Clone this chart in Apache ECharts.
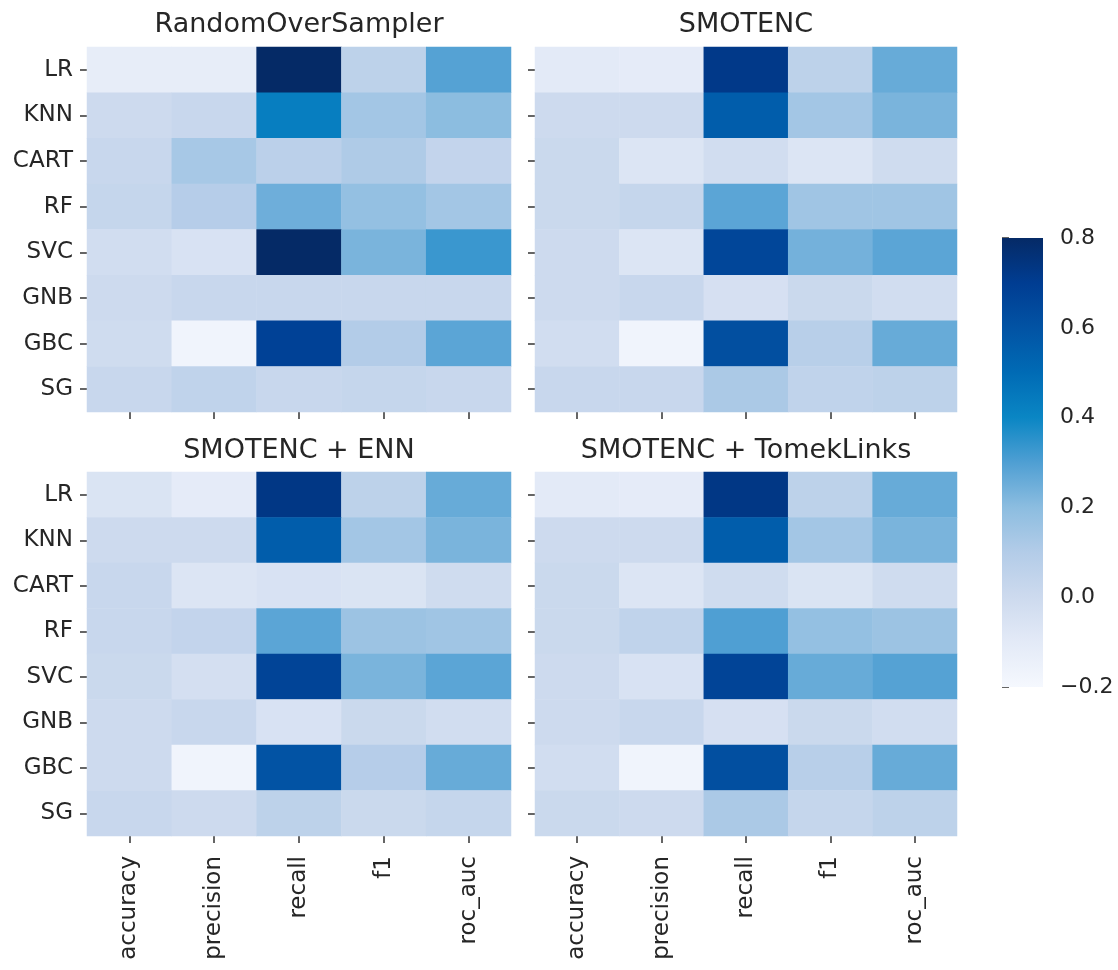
<!DOCTYPE html>
<html>
<head>
<meta charset="utf-8">
<script src="https://cdn.jsdelivr.net/npm/echarts@6/dist/echarts.min.js"></script>
<style>
  html, body { margin: 0; padding: 0; background: #fff; }
  #container { width: 1118px; height: 970px; }
</style>
</head>
<body>
<div id="container"></div>
<script>
var models = ['LR', 'KNN', 'CART', 'RF', 'SVC', 'GNB', 'GBC', 'SG'];
var metrics = ['accuracy', 'precision', 'recall', 'f1', 'roc_auc'];
var titles = ['RandomOverSampler', 'SMOTENC', 'SMOTENC + ENN', 'SMOTENC + TomekLinks'];

// rows = models, cols = metrics
var rosValues = [
    [-0.12, -0.12, 0.80, 0.06, 0.29],
    [0.00, 0.02, 0.43, 0.14, 0.20],
    [0.02, 0.13, 0.07, 0.11, 0.04],
    [0.03, 0.09, 0.25, 0.18, 0.14],
    [-0.02, -0.05, 0.80, 0.23, 0.33],
    [0.00, 0.02, 0.02, 0.02, 0.02],
    [-0.01, -0.17, 0.68, 0.10, 0.28],
    [0.02, 0.05, 0.02, 0.03, 0.02]
];
var smotencValues = [
    [-0.10, -0.11, 0.72, 0.06, 0.26],
    [0.00, 0.00, 0.56, 0.14, 0.23],
    [0.01, -0.07, -0.02, -0.07, -0.01],
    [0.01, 0.03, 0.28, 0.15, 0.15],
    [0.00, -0.07, 0.66, 0.24, 0.28],
    [0.00, 0.02, -0.04, 0.01, -0.02],
    [-0.02, -0.17, 0.62, 0.08, 0.26],
    [0.02, 0.02, 0.12, 0.05, 0.06]
];
var ennValues = [
    [-0.06, -0.11, 0.73, 0.06, 0.26],
    [0.00, 0.00, 0.56, 0.14, 0.23],
    [0.02, -0.07, -0.05, -0.06, -0.01],
    [0.02, 0.04, 0.28, 0.16, 0.15],
    [0.01, -0.03, 0.67, 0.23, 0.28],
    [0.00, 0.02, -0.05, 0.01, -0.02],
    [0.00, -0.17, 0.60, 0.09, 0.26],
    [0.02, 0.00, 0.06, 0.01, 0.03]
];
var tomekValues = [
    [-0.10, -0.11, 0.73, 0.06, 0.26],
    [0.00, 0.00, 0.56, 0.14, 0.23],
    [0.01, -0.07, -0.01, -0.06, -0.01],
    [0.01, 0.05, 0.30, 0.18, 0.16],
    [0.00, -0.05, 0.67, 0.26, 0.29],
    [0.00, 0.02, -0.04, 0.01, -0.02],
    [-0.02, -0.17, 0.62, 0.08, 0.26],
    [0.01, 0.00, 0.12, 0.03, 0.06]
];
var panels = [rosValues, smotencValues, ennValues, tomekValues];

// colour scale, -0.2 .. 0.8 in steps of 0.1
var cbarMin = -0.2;
var cbarMax = 0.8;
var cbarTicks = [-0.2, 0.0, 0.2, 0.4, 0.6, 0.8];
var cmapColors = ['#f5f8fe', '#e3eaf7', '#cddaee', '#b3cce8', '#8cbde0', '#4f9fd3',
    '#0a86c4', '#006bb5', '#0253a4', '#003d92', '#052a66'];

var font = 'DejaVu Sans';
var textColor = '#262626';
var tickStyle = {show: true, alignWithLabel: true, length: 7, lineStyle: {color: '#333', width: 1.5}};

var dom = document.getElementById('container');
var myChart = echarts.init(dom);

var grids = [
    {left: 87, top: 47, width: 424, height: 365},
    {left: 535, top: 47, width: 422, height: 365},
    {left: 87, top: 472, width: 424, height: 364},
    {left: 535, top: 472, width: 422, height: 364},
    {left: 1002, top: 238, width: 41, height: 449}   // colorbar
];
var titleCenters = [[299, 11], [746, 11], [299, 437], [746, 437]];

var xAxes = [], yAxes = [], series = [], titleList = [];
for (var p = 0; p < 4; p++) {
    xAxes.push({
        type: 'category', gridIndex: p, data: metrics, position: 'bottom',
        axisLine: {show: false}, axisTick: tickStyle, splitLine: {show: false},
        axisLabel: {show: p >= 2, rotate: 90, margin: 20, fontSize: 23, fontFamily: font, color: textColor}
    });
    yAxes.push({
        type: 'category', gridIndex: p, data: models, inverse: true,
        axisLine: {show: false}, axisTick: tickStyle, splitLine: {show: false},
        axisLabel: {show: p % 2 === 0, margin: 14, fontSize: 23, fontFamily: font, color: textColor}
    });
    var data = [];
    panels[p].forEach(function (row, r) {
        row.forEach(function (v, c) { data.push([c, r, v]); });
    });
    series.push({
        type: 'heatmap', name: titles[p], xAxisIndex: p, yAxisIndex: p, data: data,
        itemStyle: {borderWidth: 0}, emphasis: {disabled: true}
    });
    titleList.push({
        text: titles[p], left: titleCenters[p][0], top: titleCenters[p][1], textAlign: 'center', padding: 0,
        textStyle: {fontSize: 27, fontWeight: 'normal', fontFamily: font, color: textColor}
    });
}

// colorbar axes
xAxes.push({type: 'value', gridIndex: 4, min: 0, max: 1, show: false});
yAxes.push({
    type: 'value', gridIndex: 4, min: cbarMin, max: cbarMax, interval: 0.2, position: 'right',
    axisLine: {show: false}, splitLine: {show: false},
    axisTick: {show: true, length: 7, lineStyle: {color: '#333', width: 1.5}},
    axisLabel: {
        margin: 17, fontSize: 22, fontFamily: font, color: textColor,
        formatter: function (v) {
            var s = (Math.round(v * 10) / 10).toFixed(1);
            return s.replace('-', '\u2212');
        }
    }
});
var gradStops = cmapColors.map(function (c, i) {
    return {offset: i / (cmapColors.length - 1), color: c};
});
series.push({
    type: 'custom', xAxisIndex: 4, yAxisIndex: 4, silent: true,
    data: [[0, cbarMin, cbarMax]],
    renderItem: function (params, api) {
        var cs = params.coordSys;
        var yTop = api.coord([0, api.value(2)])[1];
        var yBot = api.coord([0, api.value(1)])[1];
        return {
            type: 'rect',
            shape: {x: cs.x, y: yTop, width: cs.width, height: yBot - yTop},
            style: {fill: new echarts.graphic.LinearGradient(0, 1, 0, 0, gradStops)}
        };
    }
});

var option = {
    backgroundColor: '#fff',
    animation: false,
    title: titleList,
    grid: grids,
    xAxis: xAxes,
    yAxis: yAxes,
    visualMap: {
        type: 'continuous', show: false, min: cbarMin, max: cbarMax,
        seriesIndex: [0, 1, 2, 3],
        inRange: {color: cmapColors}
    },
    series: series
};
myChart.setOption(option, true);
</script>
</body>
</html>
